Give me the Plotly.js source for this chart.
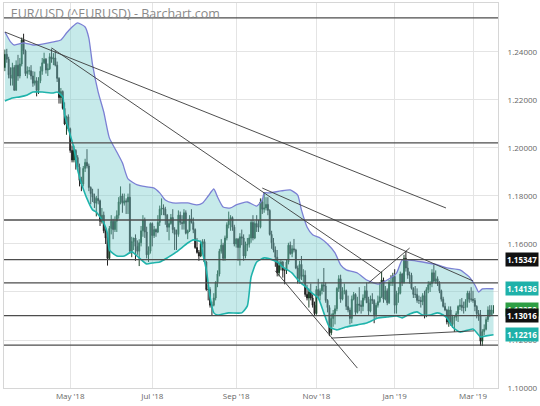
<!DOCTYPE html>
<html>
<head>
<meta charset="utf-8">
<script src="https://cdn.plot.ly/plotly-3.0.1.min.js"></script>
<style>html,body{margin:0;padding:0;background:#fff;}#chart{width:540px;height:406px;}</style>
</head>
<body>
<div id="chart"></div>
<script>
// Daily EUR/USD candles, trading-day index 0 = 13 Mar 2018 ... 262 = 18 Mar 2019
const open = [1.2335,1.2390,1.2370,1.2305,1.2290,1.2335,1.2240,1.2345,1.2300,1.2350,1.2450,1.2405,1.2310,1.2320,
1.2322,1.2300,1.2270,1.2280,1.2240,1.2280,1.2320,1.2355,1.2370,1.2325,1.2330,1.2380,1.2370,1.2375,1.2345,1.2290,1.2210,1.2235,1.2165,1.2100,1.2130,
1.2080,1.1990,1.1950,1.1990,1.1960,1.1920,1.1865,1.1850,1.1915,1.1940,1.1925,1.1835,1.1810,1.1795,1.1770,1.1790,1.1780,1.1695,1.1720,1.1655,1.1625,1.1540,1.1665,
1.1695,1.1660,1.1695,1.1720,1.1775,1.1800,1.1770,1.1780,1.1775,1.1795,1.1570,1.1610,1.1625,1.1590,1.1570,1.1605,1.1655,1.1700,1.1650,1.1555,1.1570,
1.1685,1.1635,1.1660,1.1650,1.1690,1.1745,1.1750,1.1745,1.1720,1.1670,1.1685,1.1710,1.1660,1.1640,1.1640,1.1720,1.1690,1.1685,1.1730,1.1645,1.1655,1.1705,
1.1690,1.1660,1.1585,1.1565,1.1550,1.1600,1.1610,1.1525,1.1410,1.1410,1.1345,1.1345,1.1375,1.1440,1.1475,1.1570,1.1595,1.1540,1.1625,1.1680,1.1700,1.1710,1.1670,
1.1600,1.1620,1.1585,1.1630,1.1625,1.1550,1.1595,1.1600,1.1625,1.1690,1.1625,1.1685,1.1670,1.1670,1.1775,1.1745,1.1750,1.1765,1.1740,1.1640,
1.1605,1.1575,1.1545,1.1480,1.1510,1.1525,1.1490,1.1490,1.1525,1.1595,1.1560,1.1580,1.1575,1.1500,1.1455,1.1515,1.1465,1.1470,1.1390,1.1375,1.1400,1.1375,1.1345,
1.1310,1.1410,1.1385,1.1405,1.1430,1.1425,1.1365,1.1335,1.1230,1.1290,1.1310,1.1330,1.1415,1.1455,1.1370,1.1405,1.1405,1.1340,1.1325,1.1290,1.1370,1.1390,
1.1315,1.1350,1.1345,1.1340,1.1375,1.1405,1.1355,1.1320,1.1370,1.1365,1.1305,1.1345,1.1360,1.1380,1.1450,1.1370,1.1405,1.1355,1.1440,1.1440,
1.1465,1.1345,1.1390,1.1395,1.1475,1.1440,1.1540,1.1500,1.1470,1.1470,1.1415,1.1390,1.1390,1.1365,1.1365,1.1360,1.1385,1.1305,1.1410,1.1430,1.1435,1.1480,
1.1445,1.1455,1.1435,1.1405,1.1370,1.1340,1.1325,1.1275,1.1325,1.1265,1.1295,1.1295,1.1310,1.1340,1.1345,1.1335,1.1335,1.1360,1.1395,1.1370,
1.1370,1.1365,1.1340,1.1310,1.1305,1.1195,1.1235,1.1245,1.1285,1.1325,1.1305,1.1325];
const high = [1.2410,1.2413,1.2380,1.2336,1.2355,1.2345,1.2365,1.2388,1.2375,1.2460,1.2476,1.2410,1.2340,1.2338,
1.2345,1.2320,1.2318,1.2295,1.2295,1.2340,1.2375,1.2397,1.2375,1.2352,1.2395,1.2414,1.2395,1.2405,1.2360,1.2295,1.2250,1.2240,1.2190,1.2135,1.2140,
1.2085,1.2010,1.2010,1.1995,1.1970,1.1935,1.1880,1.1925,1.1955,1.1995,1.1935,1.1840,1.1830,1.1810,1.1800,1.1830,1.1785,1.1750,1.1735,1.1665,1.1640,1.1675,1.1720,
1.1705,1.1715,1.1740,1.1795,1.1840,1.1810,1.1810,1.1790,1.1810,1.1852,1.1630,1.1625,1.1640,1.1615,1.1620,1.1675,1.1720,1.1710,1.1672,1.1590,1.1690,
1.1690,1.1675,1.1665,1.1720,1.1760,1.1790,1.1765,1.1755,1.1725,1.1700,1.1725,1.1745,1.1670,1.1660,1.1740,1.1735,1.1720,1.1745,1.1740,1.1660,1.1720,1.1745,
1.1710,1.1665,1.1625,1.1575,1.1615,1.1620,1.1620,1.1530,1.1430,1.1420,1.1360,1.1395,1.1445,1.1490,1.1580,1.1620,1.1605,1.1635,1.1690,1.1735,1.1720,1.1715,1.1680,
1.1625,1.1625,1.1645,1.1660,1.1640,1.1610,1.1625,1.1640,1.1700,1.1720,1.1695,1.1720,1.1700,1.1790,1.1790,1.1815,1.1795,1.1795,1.1745,1.1655,
1.1625,1.1590,1.1575,1.1530,1.1535,1.1530,1.1495,1.1535,1.1605,1.1610,1.1595,1.1621,1.1580,1.1510,1.1530,1.1550,1.1495,1.1490,1.1430,1.1415,1.1435,1.1390,1.1360,
1.1425,1.1455,1.1415,1.1440,1.1500,1.1440,1.1370,1.1345,1.1310,1.1325,1.1345,1.1420,1.1470,1.1472,1.1420,1.1435,1.1410,1.1385,1.1335,1.1385,1.1400,1.1395,
1.1380,1.1420,1.1365,1.1390,1.1425,1.1440,1.1380,1.1385,1.1395,1.1370,1.1355,1.1385,1.1440,1.1485,1.1460,1.1425,1.1415,1.1450,1.1470,1.1480,
1.1495,1.1405,1.1420,1.1485,1.1480,1.1555,1.1570,1.1530,1.1485,1.1480,1.1420,1.1425,1.1415,1.1385,1.1380,1.1395,1.1405,1.1420,1.1445,1.1445,1.1495,1.1515,
1.1490,1.1465,1.1445,1.1410,1.1380,1.1355,1.1330,1.1340,1.1340,1.1305,1.1300,1.1320,1.1345,1.1370,1.1375,1.1360,1.1370,1.1405,1.1405,1.1420,
1.1405,1.1375,1.1345,1.1325,1.1325,1.1245,1.1265,1.1295,1.1340,1.1345,1.1345,1.1345];
const low = [1.2320,1.2355,1.2290,1.2260,1.2260,1.2240,1.2240,1.2280,1.2290,1.2340,1.2390,1.2300,1.2290,1.2305,
1.2285,1.2255,1.2260,1.2215,1.2225,1.2270,1.2305,1.2350,1.2310,1.2300,1.2325,1.2355,1.2345,1.2340,1.2275,1.2185,1.2185,1.2160,1.2095,1.2055,1.2070,
1.1980,1.1940,1.1940,1.1910,1.1905,1.1840,1.1820,1.1840,1.1900,1.1915,1.1820,1.1765,1.1775,1.1750,1.1715,1.1765,1.1675,1.1685,1.1645,1.1600,1.1510,1.1535,1.1640,
1.1620,1.1650,1.1650,1.1705,1.1765,1.1730,1.1760,1.1725,1.1725,1.1560,1.1545,1.1575,1.1530,1.1555,1.1508,1.1590,1.1630,1.1625,1.1540,1.1525,1.1560,
1.1590,1.1625,1.1630,1.1645,1.1675,1.1720,1.1720,1.1680,1.1650,1.1615,1.1680,1.1645,1.1575,1.1575,1.1630,1.1680,1.1660,1.1660,1.1640,1.1620,1.1650,1.1685,
1.1645,1.1580,1.1560,1.1530,1.1545,1.1585,1.1525,1.1405,1.1365,1.1335,1.1301,1.1340,1.1365,1.1420,1.1465,1.1560,1.1530,1.1530,1.1615,1.1665,1.1655,1.1655,1.1590,
1.1585,1.1530,1.1510,1.1595,1.1530,1.1540,1.1570,1.1585,1.1605,1.1615,1.1620,1.1650,1.1650,1.1665,1.1725,1.1730,1.1740,1.1720,1.1635,1.1580,
1.1565,1.1505,1.1465,1.1465,1.1490,1.1460,1.1432,1.1475,1.1515,1.1555,1.1545,1.1565,1.1495,1.1435,1.1435,1.1450,1.1440,1.1380,1.1365,1.1335,1.1365,1.1335,1.1302,
1.1305,1.1375,1.1365,1.1390,1.1400,1.1355,1.1315,1.1216,1.1220,1.1255,1.1265,1.1320,1.1400,1.1355,1.1365,1.1390,1.1325,1.1315,1.1265,1.1270,1.1365,
1.1305,1.1310,1.1320,1.1310,1.1320,1.1365,1.1355,1.1300,1.1315,1.1350,1.1270,1.1290,1.1335,1.1355,1.1375,1.1355,1.1365,1.1345,1.1350,1.1425,
1.1425,1.1310,1.1310,1.1355,1.1390,1.1425,1.1435,1.1485,1.1455,1.1435,1.1410,1.1375,1.1375,1.1355,1.1350,1.1335,1.1345,1.1290,1.1295,1.1395,1.1400,1.1420,
1.1440,1.1435,1.1425,1.1395,1.1360,1.1335,1.1320,1.1265,1.1255,1.1260,1.1250,1.1234,1.1280,1.1275,1.1325,1.1320,1.1310,1.1320,1.1335,1.1355,
1.1360,1.1355,1.1320,1.1290,1.1280,1.1176,1.1175,1.1220,1.1240,1.1275,1.1295,1.1300,1.1310];
const close = [1.2390,1.2370,1.2305,1.2290,1.2335,1.2240,1.2345,1.2300,1.2350,1.2450,1.2405,1.2310,1.2320,1.2322,
1.2300,1.2270,1.2280,1.2240,1.2280,1.2320,1.2355,1.2370,1.2325,1.2330,1.2380,1.2370,1.2375,1.2345,1.2290,1.2210,1.2235,1.2165,1.2100,1.2130,1.2080,
1.1990,1.1950,1.1990,1.1960,1.1920,1.1865,1.1850,1.1915,1.1940,1.1925,1.1835,1.1810,1.1795,1.1770,1.1790,1.1780,1.1695,1.1720,1.1655,1.1625,1.1540,1.1665,1.1695,
1.1660,1.1695,1.1720,1.1775,1.1800,1.1770,1.1780,1.1775,1.1795,1.1570,1.1610,1.1625,1.1590,1.1570,1.1605,1.1655,1.1700,1.1650,1.1555,1.1570,1.1685,
1.1635,1.1660,1.1650,1.1690,1.1745,1.1750,1.1745,1.1720,1.1670,1.1685,1.1710,1.1660,1.1640,1.1640,1.1720,1.1690,1.1685,1.1730,1.1645,1.1655,1.1705,1.1690,
1.1660,1.1585,1.1565,1.1550,1.1600,1.1610,1.1525,1.1410,1.1410,1.1345,1.1345,1.1375,1.1440,1.1475,1.1570,1.1595,1.1540,1.1625,1.1680,1.1700,1.1710,1.1670,1.1600,
1.1620,1.1585,1.1630,1.1625,1.1550,1.1595,1.1600,1.1625,1.1690,1.1625,1.1685,1.1670,1.1670,1.1775,1.1745,1.1750,1.1765,1.1740,1.1640,1.1605,
1.1575,1.1545,1.1480,1.1510,1.1525,1.1490,1.1490,1.1525,1.1595,1.1560,1.1580,1.1575,1.1500,1.1455,1.1515,1.1465,1.1470,1.1390,1.1375,1.1400,1.1375,1.1345,1.1310,
1.1410,1.1385,1.1405,1.1430,1.1425,1.1365,1.1335,1.1230,1.1290,1.1310,1.1330,1.1415,1.1455,1.1370,1.1405,1.1405,1.1340,1.1325,1.1290,1.1370,1.1390,1.1315,
1.1350,1.1345,1.1340,1.1375,1.1405,1.1355,1.1320,1.1370,1.1365,1.1305,1.1345,1.1360,1.1380,1.1450,1.1370,1.1405,1.1355,1.1440,1.1440,1.1465,
1.1345,1.1390,1.1395,1.1475,1.1440,1.1540,1.1500,1.1470,1.1470,1.1415,1.1390,1.1390,1.1365,1.1365,1.1360,1.1385,1.1305,1.1410,1.1430,1.1435,1.1480,1.1445,
1.1455,1.1435,1.1405,1.1370,1.1340,1.1325,1.1275,1.1325,1.1265,1.1295,1.1295,1.1310,1.1340,1.1345,1.1335,1.1335,1.1360,1.1395,1.1370,1.1370,
1.1365,1.1340,1.1310,1.1305,1.1195,1.1235,1.1245,1.1285,1.1325,1.1305,1.1325,1.1325];

// Upper / lower envelope (trading-day index, price)
const upIdx = [0,3,5,10,15,20,26,30,33,36,39,43,45,47,50,53,56,60,63,66,71,76,80,83,86,90,98,103,106,109,112,114,117,121,124,130,135,138,139,142,148,153,157,159,162,165,169,173,177,180,183,189,194,200,205,210,213,217,224,232,237,244,249,252,254,256,262];
const upVal = [1.2483,1.2442,1.2429,1.2438,1.2429,1.2433,1.2442,1.2450,1.2479,1.2504,1.2521,1.2504,1.2458,1.2346,1.2233,1.2150,1.2042,1.1983,1.1938,1.1871,1.1846,1.1838,1.1833,1.1813,1.1783,1.1771,1.1771,1.1763,1.1771,1.1800,1.1829,1.1796,1.1754,1.1750,1.1763,1.1775,1.1758,1.1783,1.1813,1.1813,1.1821,1.1825,1.1804,1.1742,1.1671,1.1638,1.1625,1.1600,1.1563,1.1513,1.1492,1.1479,1.1450,1.1433,1.1450,1.1479,1.1533,1.1533,1.1525,1.1513,1.1500,1.1492,1.1463,1.1429,1.1400,1.1413,1.14136];
const loIdx = [0,4,8,12,15,20,26,28,31,32,35,37,39,42,45,47,49,53,55,56,60,64,68,72,76,79,83,87,92,98,101,105,106,108,110,112,114,120,127,130,132,135,139,142,146,149,154,158,162,164,168,171,174,178,183,189,194,200,205,210,213,217,221,224,228,232,235,237,240,244,251,255,258,262];
const loVal = [1.2196,1.2208,1.2213,1.2221,1.2233,1.2233,1.2229,1.2233,1.2213,1.2138,1.2054,1.2000,1.1908,1.1829,1.1771,1.1742,1.1733,1.1688,1.1642,1.1575,1.1550,1.1550,1.1567,1.1542,1.1517,1.1521,1.1525,1.1542,1.1567,1.1604,1.1617,1.1608,1.1563,1.1492,1.1379,1.1313,1.1304,1.1313,1.1313,1.1342,1.1463,1.1525,1.1542,1.1538,1.1525,1.1504,1.1479,1.1442,1.1417,1.1400,1.1375,1.1313,1.1254,1.1242,1.1254,1.1263,1.1271,1.1292,1.1296,1.1300,1.1292,1.1308,1.1317,1.1304,1.1304,1.1313,1.1304,1.1292,1.1254,1.1233,1.1246,1.1213,1.1217,1.12216];

// Drawn studies
const hLines = [1.2542,1.2021,1.1700,1.15347,1.1438,1.13016,1.1179];
const trendX0 = [0,25,138,145,175,195];
const trendY0 = [1.2483,1.2417,1.1833,1.1488,1.1208,1.1438];
const trendX1 = [236.5,202,251,189,251.5,217];
const trendY1 = [1.1750,1.1479,1.1446,1.1083,1.1238,1.1583];

// Tick labels
const tickIdx = [35,79,124,167,209,251];
const tickText = ["May '18","Jul '18","Sep '18","Nov '18","Jan '19","Mar '19"];

// Price labels at right
const lblVal = [1.15347,1.14136,1.1325,1.13016,1.12216];
const lblText = ["1.15347","1.14136","1.13250","1.13016","1.12216"];
const lblColor = ["#111111","#1fb1a9","#2e9e44","#111111","#1fb1a9"];

const days = close.map((_, i) => i);

const traces = [
  {type:'scatter', mode:'lines', x:loIdx, y:loVal, line:{color:'#1fb3ab', width:1.6, shape:'spline', smoothing:0.5}, hoverinfo:'skip', showlegend:false},
  {type:'scatter', mode:'lines', x:upIdx, y:upVal, fill:'tonexty', fillcolor:'rgba(120,206,206,0.42)', line:{color:'#7b80d4', width:1.3, shape:'spline', smoothing:0.5}, hoverinfo:'skip', showlegend:false},
  {type:'candlestick', x:days, open:open, high:high, low:low, close:close,
   increasing:{line:{color:'#1a4329', width:1}, fillcolor:'#1a4329'},
   decreasing:{line:{color:'#222222', width:1}, fillcolor:'#222222'},
   whiskerwidth:0, hoverinfo:'skip', showlegend:false}
];

const shapes = [];
hLines.forEach(v => shapes.push({type:'line', xref:'paper', x0:0, x1:1, yref:'y', y0:v, y1:v, line:{color:'#4d4d4d', width:1.3}}));
trendX0.forEach((x0, k) => shapes.push({type:'line', xref:'x', yref:'y', x0:x0, y0:trendY0[k], x1:trendX1[k], y1:trendY1[k], line:{color:'#3a3a3a', width:0.9}}));

const annotations = lblVal.map((v, k) => ({
  xref:'paper', x:1, xanchor:'left', xshift:7, yref:'y', y:v, yanchor:'middle',
  text:'<b>'+lblText[k]+'</b>', showarrow:false, bgcolor:lblColor[k], borderpad:1,
  font:{family:'Open Sans, sans-serif', size:8, color:'#ffffff'}
}));

const layout = {
  width:540, height:406,
  margin:{l:4, r:42, t:3, b:18},
  paper_bgcolor:'#ffffff', plot_bgcolor:'#ffffff',
  title:{text:'EUR/USD (^EURUSD) - Barchart.com', x:0.02, xanchor:'left', xref:'container', y:1-14/406, yanchor:'middle', yref:'container',
         font:{family:'Open Sans, sans-serif', size:12.5, color:'#8a8a8a'}},
  font:{family:'Open Sans, sans-serif', size:8, color:'#666'},
  xaxis:{type:'linear', range:[-0.5,264.4], tickmode:'array', tickvals:tickIdx, ticktext:tickText,
         showgrid:true, gridcolor:'#e4e4e4', gridwidth:1, zeroline:false, rangeslider:{visible:false},
         showline:true, linecolor:'#d6d6d6', mirror:true, ticks:'', tickfont:{size:8, color:'#666'}, fixedrange:true},
  yaxis:{side:'right', range:[1.10,1.2604], dtick:0.02, tick0:1.10, tickformat:'.5f',
         showgrid:true, gridcolor:'#e4e4e4', zeroline:false, showline:true, linecolor:'#d6d6d6', mirror:true,
         ticks:'', ticklabelstandoff:7, tickfont:{size:8, color:'#666'}, fixedrange:true},
  shapes:shapes, annotations:annotations, showlegend:false, hovermode:false
};

Plotly.newPlot('chart', traces, layout, {displayModeBar:false, staticPlot:true});
</script>
</body>
</html>
